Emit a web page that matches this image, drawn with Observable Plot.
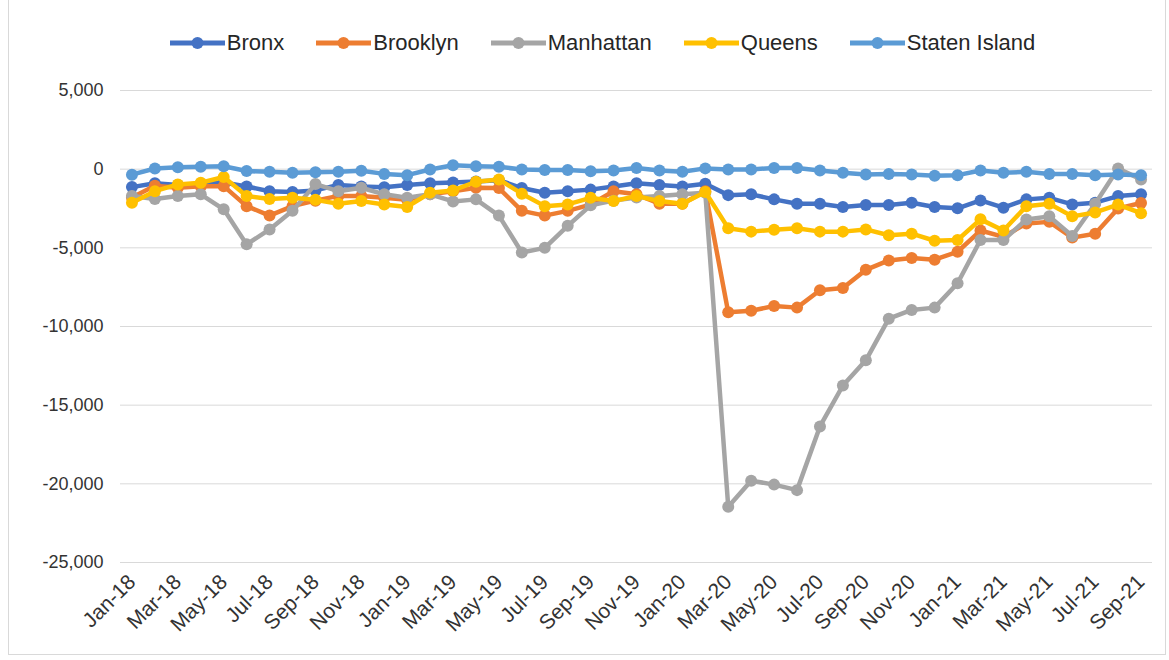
<!DOCTYPE html>
<html><head><meta charset="utf-8">
<script src="https://cdn.jsdelivr.net/npm/d3@7"></script>
<script src="https://cdn.jsdelivr.net/npm/@observablehq/plot@0.6"></script>
<style>
body{margin:0;background:#fff;font-family:"Liberation Sans",Arial,sans-serif;}
#wrap{position:relative;width:1169px;height:660px;overflow:hidden;background:#fff;}
#frame{position:absolute;left:8px;top:-2px;width:1158px;height:657px;border:1px solid #d9d9d9;box-sizing:border-box;}
#legend{position:absolute;left:0;top:30px;width:1169px;display:flex;justify-content:center;align-items:center;padding-left:36px;box-sizing:border-box;}
.item{display:flex;align-items:center;margin:0 16px;font-size:22px;color:#262626;}
.item svg{margin-right:2px;}
#chart{position:absolute;left:0;top:72px;}
</style></head>
<body><div id="wrap"><div id="frame"></div><div id="legend"></div><div id="chart"></div></div>
<script>
const months = ["Jan-18","Feb-18","Mar-18","Apr-18","May-18","Jun-18","Jul-18","Aug-18","Sep-18","Oct-18","Nov-18","Dec-18",
"Jan-19","Feb-19","Mar-19","Apr-19","May-19","Jun-19","Jul-19","Aug-19","Sep-19","Oct-19","Nov-19","Dec-19",
"Jan-20","Feb-20","Mar-20","Apr-20","May-20","Jun-20","Jul-20","Aug-20","Sep-20","Oct-20","Nov-20","Dec-20",
"Jan-21","Feb-21","Mar-21","Apr-21","May-21","Jun-21","Jul-21","Aug-21","Sep-21"];
const tickLabels = ["Jan-18","Mar-18","May-18","Jul-18","Sep-18","Nov-18","Jan-19","Mar-19","May-19","Jul-19","Sep-19","Nov-19",
"Jan-20","Mar-20","May-20","Jul-20","Sep-20","Nov-20","Jan-21","Mar-21","May-21","Jul-21","Sep-21"];
const yTicks = [5000,0,-5000,-10000,-15000,-20000,-25000];

const bronx = [-1140,-900,-1000,-950,-850,-1100,-1400,-1450,-1350,-1000,-1100,-1150,
-1000,-900,-850,-780,-700,-1200,-1500,-1400,-1300,-1100,-900,-1000,
-1100,-930,-1650,-1600,-1920,-2200,-2200,-2400,-2280,-2280,-2130,-2400,
-2490,-1990,-2450,-1920,-1820,-2240,-2130,-1710,-1600];
const brooklyn = [-1800,-1050,-1180,-1080,-1080,-2350,-2950,-2350,-2000,-1700,-1700,-1820,
-1950,-1600,-1400,-1180,-1200,-2650,-2950,-2650,-2250,-1400,-1600,-2200,
-2200,-1400,-9100,-9000,-8700,-8800,-7700,-7550,-6400,-5800,-5650,-5750,
-5250,-3900,-4300,-3450,-3350,-4350,-4100,-2500,-2150];
const manhattan = [-1700,-1900,-1700,-1600,-2550,-4780,-3830,-2650,-950,-1400,-1180,-1600,
-1820,-1600,-2050,-1920,-2950,-5300,-5000,-3600,-2300,-2000,-1800,-1700,
-1600,-1500,-21450,-19800,-20050,-20400,-16350,-13750,-12150,-9500,-8950,-8800,
-7250,-4500,-4500,-3200,-3000,-4250,-2200,40,-650];
const queens = [-2130,-1400,-970,-860,-500,-1700,-1900,-1820,-1950,-2200,-2030,-2240,
-2400,-1500,-1350,-800,-650,-1560,-2350,-2240,-1820,-2030,-1710,-2030,
-2200,-1450,-3750,-3970,-3850,-3760,-3970,-3970,-3830,-4200,-4100,-4550,
-4500,-3190,-3900,-2350,-2200,-3000,-2750,-2250,-2800];
const statenIsland = [-350,40,120,150,190,-120,-170,-230,-200,-170,-100,-300,
-380,-20,250,190,150,-20,-50,-50,-130,-85,80,-85,
-170,50,-20,-20,80,80,-80,-230,-340,-300,-340,-420,
-380,-85,-230,-170,-300,-300,-380,-340,-380];

const seriesNames = ["Bronx","Brooklyn","Manhattan","Queens","Staten Island"];
const seriesValues = [bronx, brooklyn, manhattan, queens, statenIsland];
const colors = ["#4472C4","#ED7D31","#A5A5A5","#FFC000","#5B9BD5"];

const font = '"Liberation Sans", Arial, sans-serif';

// legend
const legend = document.getElementById("legend");
seriesNames.forEach((n,k)=>{
  const it = document.createElement("div"); it.className="item";
  it.innerHTML = `<svg width="55" height="20"><line x1="0" y1="10" x2="55" y2="10" stroke="${colors[k]}" stroke-width="5" stroke-linecap="round"/><circle cx="27.5" cy="10" r="6" fill="${colors[k]}"/></svg><span>${n}</span>`;
  legend.appendChild(it);
});

const fmt = d3.format(",");
const marks = [
  Plot.ruleY(yTicks, {stroke:"#d9d9d9", strokeWidth:1}),
  Plot.axisY({ticks: yTicks, tickSize:0, tickPadding:17, fontSize:18, tickFormat: d => d===0 ? "0" : fmt(d).replace("\u2212","-"), label:null}),
  Plot.axisX({ticks: tickLabels, tickSize:0, tickPadding:16, dx:0, tickRotate:-45, fontSize:21, label:null})
];
seriesNames.forEach((n,k)=>{
  const data = months.map((m,i)=>({month:m, value:seriesValues[k][i]}));
  marks.push(Plot.line(data, {x:"month", y:"value", stroke:colors[k], strokeWidth:4.5, curve:"linear"}));
  marks.push(Plot.dot(data, {x:"month", y:"value", fill:colors[k], r:6, stroke:"none"}));
});

const chart = Plot.plot({
  width:1169, height:588,
  marginLeft:120, marginRight:17, marginTop:18, marginBottom:98,
  style:{fontFamily:font, color:"#333333", background:"transparent"},
  x:{type:"point", domain:months, padding:0.5, axis:null},
  y:{domain:[-25000,5000], axis:null},
  marks
});
document.getElementById("chart").appendChild(chart);
</script></body></html>
